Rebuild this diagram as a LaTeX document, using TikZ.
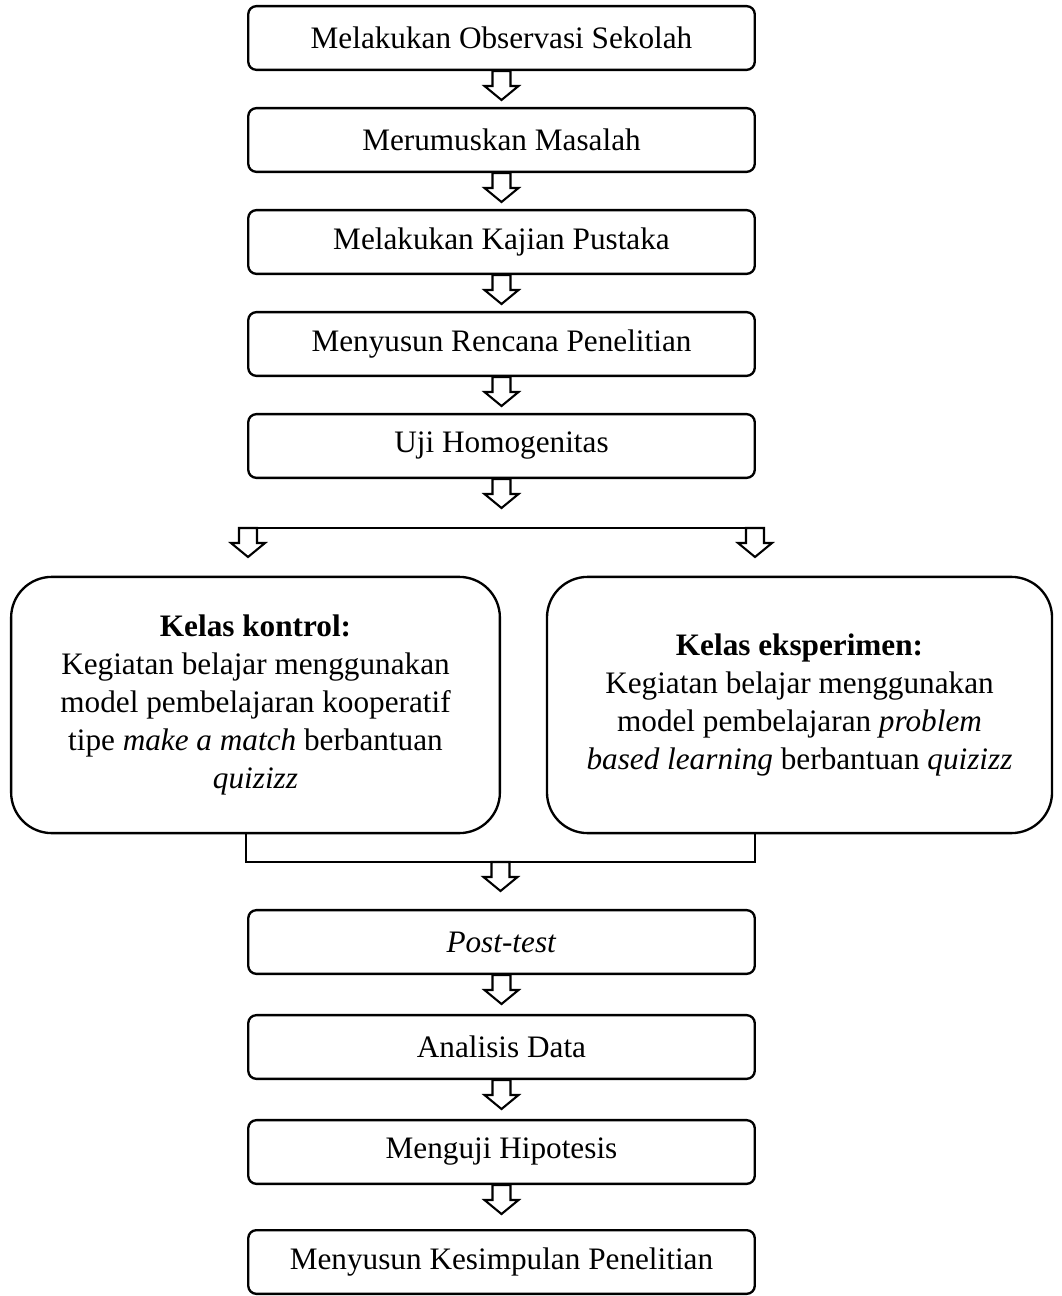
\documentclass[tikz,border=0pt]{standalone}
\usepackage{fontspec}
\setmainfont{Liberation Serif}
\usetikzlibrary{calc,positioning}
\tikzstyle{stepbox}=[draw,line width=0.9pt,rounded corners=0.11cm,minimum width=6.84cm,minimum height=0.86cm,inner sep=2pt,align=center,font=\fontsize{12}{14}\selectfont]
\tikzstyle{classbox}=[draw,line width=0.9pt,rounded corners=0.55cm,minimum height=3.46cm,inner sep=2pt,align=center,font=\fontsize{12}{14.6}\selectfont]
\tikzstyle{joinline}=[draw,line width=0.9pt]
\tikzset{blockarrow/.pic={
    \draw[line width=0.8pt] (-9,0) -- (-9,15) -- (-17,15) -- (0,29) -- (17,15) -- (9,15) -- (9,0) -- cycle;
}}

\begin{document}
\begin{tikzpicture}[x=0.0135cm,y=-0.0135cm]
    \useasboundingbox (0,0) rectangle (1062,1296);

    % First the steps before the split
    \foreach \pos/\name/\txt in {{(501.5,38)/observasi/Melakukan Observasi Sekolah},
        {(501.5,140)/rumusan/Merumuskan Masalah},
        {(501.5,242)/kajian/Melakukan Kajian Pustaka},
        {(501.5,344)/rencana/Menyusun Rencana Penelitian},
        {(501.5,446)/homogen/Uji Homogenitas}}
        \node[stepbox] (\name) at \pos {\txt};

    % The two classes
    \node[classbox,minimum width=6.60cm] (kontrol) at (255.5,705)
        {\textbf{Kelas kontrol:}\\Kegiatan belajar menggunakan\\model pembelajaran kooperatif\\tipe \textit{make a match} berbantuan\\\textit{quizizz}};
    \node[classbox,minimum width=6.82cm] (eksperimen) at (799.5,705)
        {\textbf{Kelas eksperimen:}\\Kegiatan belajar menggunakan\\model pembelajaran \textit{problem}\\\textit{based learning} berbantuan \textit{quizizz}};

    % Then the steps after the classes
    \foreach \pos/\name/\txt in {{(501.5,942)/posttest/\textit{Post-test}},
        {(501.5,1047)/analisis/Analisis Data},
        {(501.5,1152)/hipotesis/Menguji Hipotesis},
        {(501.5,1262)/simpulan/Menyusun Kesimpulan Penelitian}}
        \node[stepbox] (\name) at \pos {\txt};

    % Block arrows under the steps
    \foreach \name in {observasi,rumusan,kajian,rencana,homogen,posttest,analisis,hipotesis}
        \pic at (\name.south) {blockarrow};

    % Split into the two classes
    \coordinate (splitL) at (248,528);
    \coordinate (splitR) at (755,528);
    \path[joinline] (splitL) -- (splitR);
    \pic at (splitL) {blockarrow};
    \pic at (splitR) {blockarrow};

    % Join the two classes again
    \coordinate (joinL) at (246,862);
    \coordinate (joinR) at (755,862);
    \path[joinline] (kontrol.south -| joinL) -- (joinL) -- (joinR) -- (eksperimen.south -| joinR);
    \pic at ($(joinL)!0.5!(joinR)$) {blockarrow};

\end{tikzpicture}
\end{document}
